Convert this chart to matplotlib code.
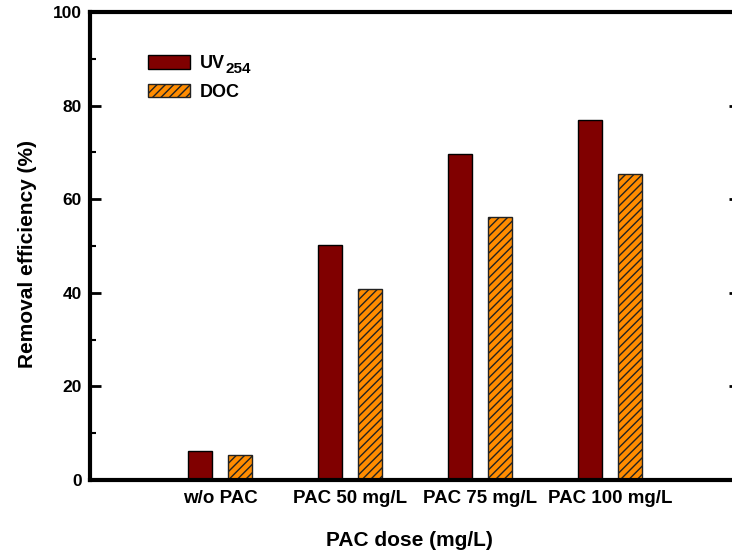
import matplotlib
matplotlib.use("Agg")
import matplotlib.pyplot as plt
import numpy as np
from matplotlib.ticker import MultipleLocator

plt.rcParams['font.family'] = ['Liberation Sans', 'DejaVu Sans']
plt.rcParams['font.weight'] = 'bold'
plt.rcParams['hatch.linewidth'] = 1.0

categories = ['w/o PAC', 'PAC 50 mg/L', 'PAC 75 mg/L', 'PAC 100 mg/L']
uv254 = [6.2, 50.2, 69.7, 76.9]
doc = [5.3, 40.8, 56.2, 65.4]

fig = plt.figure(figsize=(7.32, 5.53), dpi=100)
ax = fig.add_axes([90/732, 1-480/553, 650/732, 468/553])

x = np.arange(1, len(categories) + 1)
w = 0.185
off = 0.152
ax.bar(x - off, uv254, w, color='#800000', edgecolor='black', linewidth=1.0,
       label='UV', zorder=2)
ax.bar(x + off, doc, w, color='#FF8C00', edgecolor='#222222', linewidth=1.0,
       hatch='////', label='DOC', zorder=2)

ax.set_xlim(0, 5)
ax.set_ylim(0, 100)
ax.set_xticks(x)
ax.set_xticklabels(categories, fontsize=13.5, fontweight='bold')
ax.tick_params(axis='x', length=0, pad=7)
ax.yaxis.set_major_locator(MultipleLocator(20))
ax.yaxis.set_minor_locator(MultipleLocator(10))
ax.tick_params(axis='y', which='major', direction='in', length=8, width=2,
               right=True, labelsize=12.5, pad=6)
ax.tick_params(axis='y', which='minor', direction='in', length=4, width=1.5,
               right=True)
for lab in ax.get_yticklabels():
    lab.set_fontweight('bold')
for s in ax.spines.values():
    s.set_linewidth(3)

ax.set_ylabel('Removal efficiency (%)', fontsize=15, fontweight='bold')
ax.yaxis.set_label_coords(-0.0815, 0.483)
ax.set_xlabel('PAC dose (mg/L)', fontsize=15, fontweight='bold')
ax.xaxis.set_label_coords(0.491, -0.11)

leg = ax.legend(loc='upper left', bbox_to_anchor=(0.064, 0.942), frameon=False,
                fontsize=13, handlelength=2.35, handleheight=0.75,
                labelspacing=0.62, handletextpad=0.55)
for t in leg.get_texts():
    t.set_fontweight('bold')
uvtext = leg.get_texts()[0]
ax.annotate('254', xy=(1, 0), xycoords=uvtext, xytext=(0.5, -2.6),
            textcoords='offset points', ha='left', va='bottom',
            fontsize=11, fontweight='bold', zorder=10)

fig.savefig('out.png', dpi=100)
